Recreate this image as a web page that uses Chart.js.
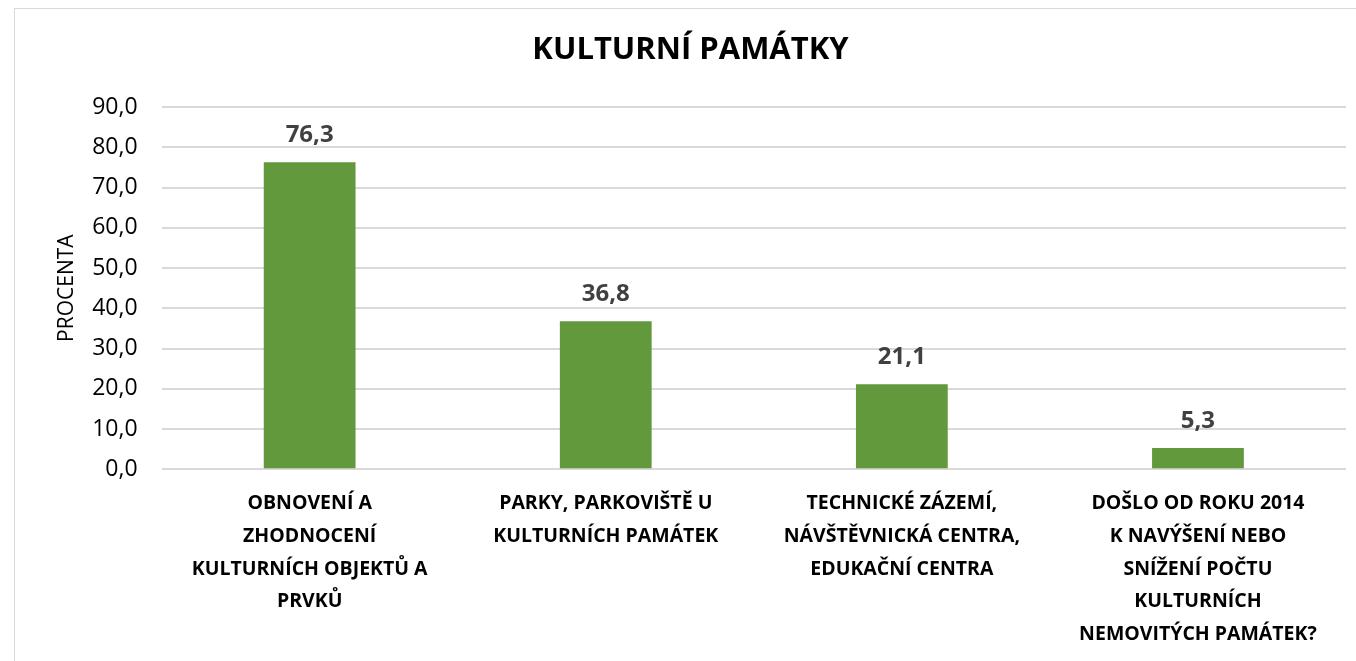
<!DOCTYPE html>
<html>
<head>
<meta charset="utf-8">
<script src="https://cdn.jsdelivr.net/npm/chart.js@4"></script>
<style>
  html, body { margin: 0; padding: 0; background: #fff; overflow: hidden; }
  #wrap { position: absolute; left: 0; top: 0; width: 1386px; height: 661px; }
  #frame { position: absolute; left: 14px; top: 8px; width: 1400px; height: 700px; border: 1px solid #d9d9d9; pointer-events: none; }
</style>
</head>
<body>
<div id="wrap"><canvas id="myChart"></canvas></div>
<div id="frame"></div>
<script>
// data
var categories = [
    ["OBNOVENÍ A", "ZHODNOCENÍ", "KULTURNÍCH OBJEKTŮ A", "PRVKŮ"],
    ["PARKY, PARKOVIŠTĚ U", "KULTURNÍCH PAMÁTEK"],
    ["TECHNICKÉ ZÁZEMÍ,", "NÁVŠTĚVNICKÁ CENTRA,", "EDUKAČNÍ CENTRA"],
    ["DOŠLO OD ROKU 2014", "K NAVÝŠENÍ NEBO", "SNÍŽENÍ POČTU", "KULTURNÍCH", "NEMOVITÝCH PAMÁTEK?"]
];
var values = [76.3, 36.8, 21.1, 5.3];
var chartTitle = "KULTURNÍ PAMÁTKY";
var yTitle = "PROCENTA";

function czNum(v) {
    return Number(v).toFixed(1).replace(".", ",");
}

// labels above the bars
var barLabels = {
    id: "barLabels",
    afterDatasetsDraw: function(chart) {
        var ctx = chart.ctx;
        var meta = chart.getDatasetMeta(0);
        ctx.save();
        ctx.font = "bold 24px 'Open Sans'";
        ctx.fillStyle = "#404040";
        ctx.textAlign = "center";
        ctx.textBaseline = "alphabetic";
        meta.data.forEach(function(bar, i) {
            ctx.fillText(czNum(values[i]), bar.x, bar.y - 20);
        });
        ctx.restore();
    }
};

var ctx = document.getElementById("myChart").getContext("2d");

var config = {
    type: "bar",
    data: {
        labels: categories,
        datasets: [{
            label: "Procenta",
            data: values,
            backgroundColor: "#63993d",
            categoryPercentage: 1.0,
            barPercentage: 0.31
        }]
    },
    options: {
        responsive: true,
        maintainAspectRatio: false,
        animation: false,
        layout: { padding: { left: 35, right: 40, top: 24, bottom: -8 } },
        plugins: {
            legend: { display: false },
            tooltip: { enabled: false },
            title: {
                display: true,
                text: chartTitle,
                color: "#000",
                font: { family: "Open Sans", size: 31, weight: "bold" },
                padding: { top: 8, bottom: 38 }
            }
        },
        scales: {
            x: {
                grid: { display: false, drawTicks: false },
                border: { display: false },
                ticks: {
                    color: "#000",
                    font: { family: "Open Sans", size: 19.5, weight: "bold", lineHeight: 1.68 },
                    maxRotation: 0,
                    autoSkip: false,
                    padding: 18
                }
            },
            y: {
                min: 0,
                max: 90,
                grid: { color: "#d9d9d9", lineWidth: 2, drawTicks: false },
                border: { display: false },
                ticks: {
                    stepSize: 10,
                    color: "#000",
                    font: { family: "Open Sans", size: 23 },
                    padding: 24,
                    callback: function(v) { return czNum(v); }
                },
                title: {
                    display: true,
                    text: yTitle,
                    color: "#000",
                    font: { family: "Open Sans", size: 21 },
                    padding: { top: 19, bottom: -11 }
                }
            }
        }
    },
    plugins: [barLabels]
};

var myChart = new Chart(ctx, config);
</script>
</body>
</html>
